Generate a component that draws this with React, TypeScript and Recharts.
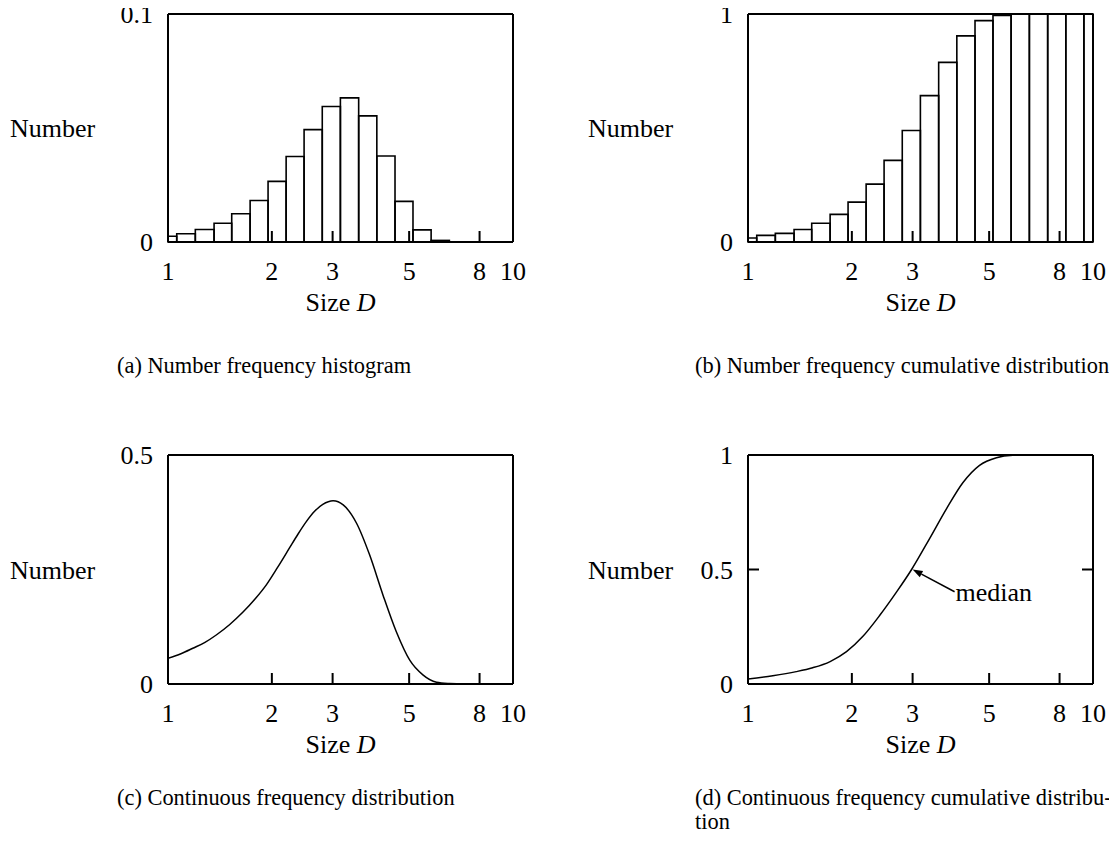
import { ComposedChart, Line, XAxis, YAxis, ReferenceArea, ReferenceLine, Label } from 'recharts';

// Tamaños (eje X logarítmico)
const sizeTicks = [1, 2, 3, 5, 8, 10];

// Bordes de las clases del histograma
const binEdges = [1, 1.06, 1.2, 1.36, 1.53, 1.73, 1.95, 2.2, 2.48, 2.8, 3.16, 3.57, 4.03, 4.55, 5.13, 5.79, 6.54, 7.39, 8.34, 9.41, 10];

// (a) frecuencia por clase
const histCounts = [0.0025, 0.0036, 0.0055, 0.0082, 0.0124, 0.0182, 0.0266, 0.0375, 0.0493, 0.0594, 0.0632, 0.0553, 0.0377, 0.0178, 0.0053, 0.0007, 0, 0, 0, 0];

// (b) frecuencia acumulada por clase
const histCumulative = [0.0175, 0.029, 0.038, 0.055, 0.082, 0.121, 0.175, 0.254, 0.358, 0.489, 0.642, 0.788, 0.904, 0.971, 0.994, 1, 1, 1, 1, 1];

// (c) distribución continua
const densitySizes = [1, 1.09, 1.18, 1.28, 1.38, 1.51, 1.65, 1.79, 1.93, 2.08, 2.25, 2.38, 2.52, 2.66, 2.81, 3.01, 3.22, 3.52, 3.84, 4.2, 4.59, 5.02, 5.48, 6.0, 6.55, 7.2, 10];
const densityValues = [0.056, 0.066, 0.078, 0.091, 0.107, 0.13, 0.157, 0.186, 0.217, 0.255, 0.297, 0.327, 0.355, 0.377, 0.392, 0.4, 0.391, 0.351, 0.282, 0.194, 0.114, 0.052, 0.02, 0.004, 0.001, 0, 0];

// (d) distribución continua acumulada
const cumulativeSizes = [1, 1.18, 1.38, 1.54, 1.73, 1.93, 2.15, 2.41, 2.69, 2.98, 3.36, 3.76, 4.2, 4.69, 5.25, 5.86, 6.55, 10];
const cumulativeValues = [0.022, 0.036, 0.054, 0.071, 0.098, 0.141, 0.207, 0.3, 0.4, 0.5, 0.635, 0.765, 0.88, 0.955, 0.988, 0.9985, 1, 1];

// Mediana y extremo de la flecha
const medianPoint = { x: 3.0, y: 0.5 };
const medianTail = { x: 3.97, y: 0.403 };
const medianLabel = 'median';

const captions = {
  a: '(a) Number frequency histogram',
  b: '(b) Number frequency cumulative distribution',
  c: '(c) Continuous frequency distribution',
  d1: '(d) Continuous frequency cumulative distribu-',
  d2: 'tion',
};

const FONT = "'Liberation Serif', 'Times New Roman', serif";
const AXIS_FONT = 26;
const PLOT_W = 345;

const binRows = binEdges.slice(0, -1).map((lo, i) => ({ D: lo, hi: binEdges[i + 1] }));

const SizeLabel = (props: any) => {
  const vb = props.viewBox || {};
  return (
    <text x={vb.x + vb.width / 2} y={vb.y + 69} textAnchor="middle" fill="#000" fontSize={AXIS_FONT} fontFamily={FONT}>
      Size <tspan fontStyle="italic">D</tspan>
    </text>
  );
};

const MedianArrow = (p: any) => {
  const { x1, y1, x2, y2 } = p;
  const dx = x2 - x1;
  const dy = y2 - y1;
  const len = Math.sqrt(dx * dx + dy * dy) || 1;
  const ux = dx / len;
  const uy = dy / len;
  const bx = x2 - ux * 10;
  const by = y2 - uy * 10;
  const pts = `${x2},${y2} ${bx - uy * 3.5},${by + ux * 3.5} ${bx + uy * 3.5},${by - ux * 3.5}`;
  return (
    <g>
      <line x1={x1} y1={y1} x2={bx} y2={by} stroke="#000" strokeWidth={1.5} />
      <polygon points={pts} fill="#000" />
      <text x={x1 + 1} y={y1 + 9} fill="#000" fontSize={AXIS_FONT} fontFamily={FONT}>{medianLabel}</text>
    </g>
  );
};

interface PanelProps {
  left: number;
  top: number;
  yWidth: number;
  plotHeight: number;
  yDomain: [number, number];
  yTicks: number[];
  data: any[];
  children: any;
}

function Panel({ left, top, yWidth, plotHeight, yDomain, yTicks, data, children }: PanelProps) {
  const axisLine = { stroke: '#000', strokeWidth: 2 };
  const tickLine = { stroke: '#000', strokeWidth: 2 };
  const tickText = { fill: '#000', fontSize: AXIS_FONT, fontFamily: FONT };
  return (
    <div style={{ position: 'absolute', left, top }}>
      <ComposedChart
        width={yWidth + PLOT_W + 20}
        height={8 + 6 + plotHeight + 80}
        data={data}
        margin={{ top: 8, right: 0, bottom: 0, left: 0 }}
      >
        <XAxis
          xAxisId="bottom"
          dataKey="D"
          type="number"
          scale="log"
          domain={[1, 10]}
          ticks={sizeTicks}
          interval={0}
          allowDataOverflow
          height={80}
          tickSize={-11}
          tickMargin={31}
          axisLine={axisLine}
          tickLine={tickLine}
          tick={tickText}
        >
          <Label content={SizeLabel} />
        </XAxis>
        <XAxis
          xAxisId="top"
          orientation="top"
          type="number"
          scale="log"
          domain={[1, 10]}
          ticks={sizeTicks}
          interval={0}
          allowDataOverflow
          height={6}
          tickSize={-11}
          axisLine={axisLine}
          tickLine={tickLine}
          tickFormatter={() => ''}
        />
        <YAxis
          yAxisId="left"
          type="number"
          domain={yDomain}
          ticks={yTicks}
          interval={0}
          allowDataOverflow
          width={yWidth}
          tickSize={-11}
          tickMargin={26}
          axisLine={axisLine}
          tickLine={tickLine}
          tick={tickText}
          label={{ value: 'Number', position: 'insideLeft', offset: 10, fill: '#000', fontSize: AXIS_FONT, fontFamily: FONT }}
        />
        <YAxis
          yAxisId="right"
          orientation="right"
          type="number"
          domain={yDomain}
          ticks={yTicks}
          interval={0}
          allowDataOverflow
          width={20}
          tickSize={-11}
          axisLine={axisLine}
          tickLine={tickLine}
          tickFormatter={() => ''}
        />
        {children}
      </ComposedChart>
    </div>
  );
}

const histBars = (values: number[]) =>
  binRows
    .map((b, i) => ({ ...b, v: values[i] }))
    .filter((b) => b.v > 0)
    .map((b, i) => (
      <ReferenceArea
        key={i}
        xAxisId="bottom"
        yAxisId="left"
        x1={b.D}
        x2={b.hi}
        y1={0}
        y2={b.v}
        fill="none"
        stroke="#000"
        strokeWidth={1.6}
        strokeOpacity={1}
      />
    ));

const captionStyle = (left: number, top: number): any => ({
  position: 'absolute',
  left,
  top,
  fontFamily: FONT,
  fontSize: 22.4,
  lineHeight: '24px',
  whiteSpace: 'nowrap',
  color: '#000',
});

export default function App() {
  const densityData = densitySizes.map((D, i) => ({ D, v: densityValues[i] }));
  const cumulativeData = cumulativeSizes.map((D, i) => ({ D, v: cumulativeValues[i] }));

  return (
    <div style={{ position: 'relative', width: 1101, height: 827, fontFamily: FONT }}>
      <style>{'html, body { overflow: hidden; } svg.recharts-surface { overflow: visible; }'}</style>
      <Panel left={-8} top={-8} yWidth={168} plotHeight={228} yDomain={[0, 0.1]} yTicks={[0, 0.1]} data={binRows}>
        {histBars(histCounts)}
      </Panel>
      <Panel left={570} top={-8} yWidth={170} plotHeight={228} yDomain={[0, 1]} yTicks={[0, 1]} data={binRows}>
        {histBars(histCumulative)}
      </Panel>
      <Panel left={-8} top={433} yWidth={168} plotHeight={229} yDomain={[0, 0.5]} yTicks={[0, 0.5]} data={densityData}>
        <Line
          xAxisId="bottom"
          yAxisId="left"
          dataKey="v"
          type="monotone"
          dot={false}
          stroke="#000"
          strokeWidth={1.5}
          isAnimationActive={false}
        />
      </Panel>
      <Panel left={570} top={433} yWidth={170} plotHeight={229} yDomain={[0, 1]} yTicks={[0, 0.5, 1]} data={cumulativeData}>
        <Line
          xAxisId="bottom"
          yAxisId="left"
          dataKey="v"
          type="monotone"
          dot={false}
          stroke="#000"
          strokeWidth={1.5}
          isAnimationActive={false}
        />
        <ReferenceLine
          xAxisId="bottom"
          yAxisId="left"
          segment={[medianTail, medianPoint]}
          shape={MedianArrow}
        />
      </Panel>

      <div style={captionStyle(109, 346)}>{captions.a}</div>
      <div style={captionStyle(687, 346)}>{captions.b}</div>
      <div style={captionStyle(109, 778)}>{captions.c}</div>
      <div style={captionStyle(687, 778)}>
        {captions.d1}
        <br />
        {captions.d2}
      </div>
    </div>
  );
}
